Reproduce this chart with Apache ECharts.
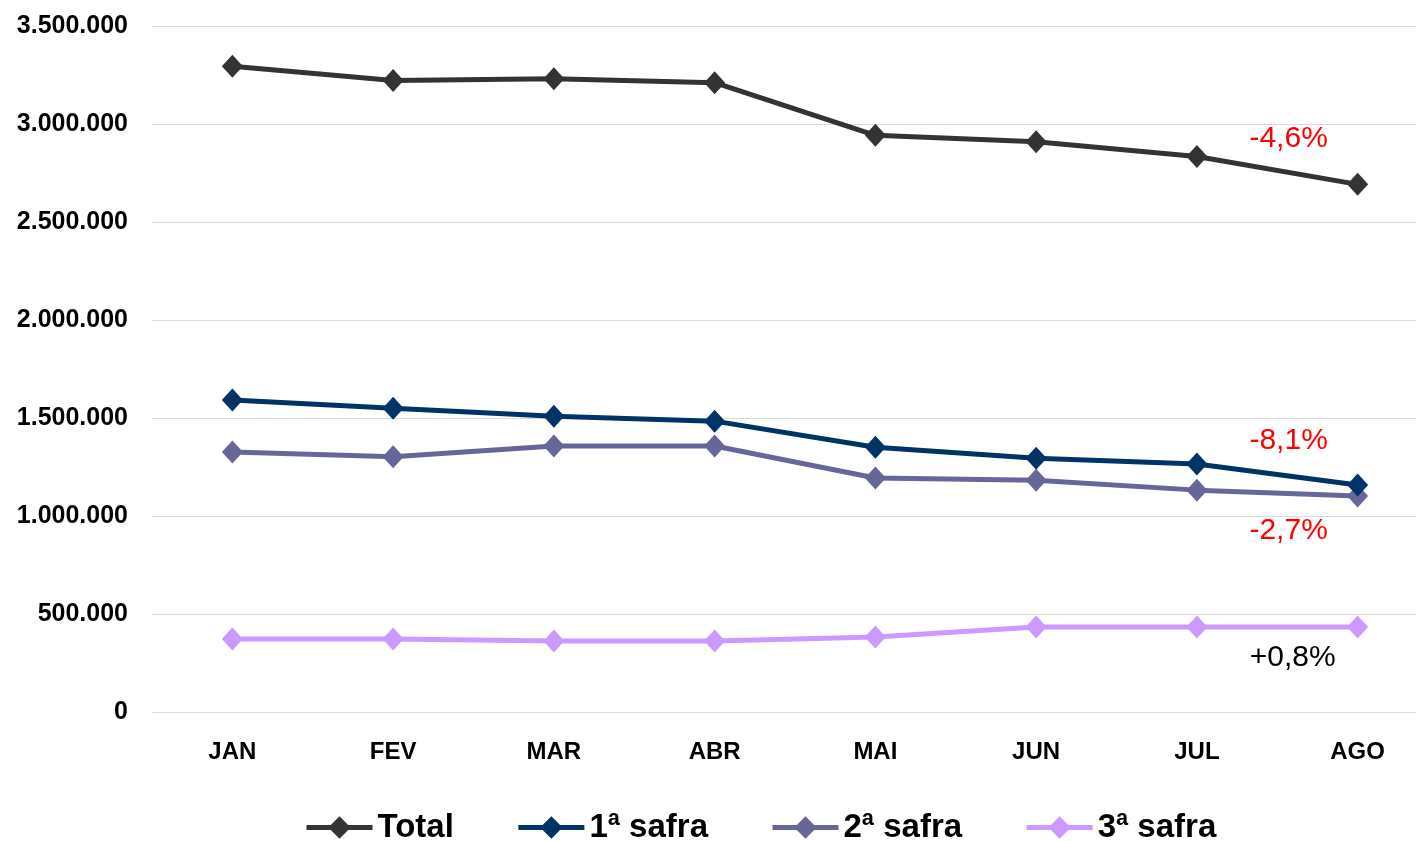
<!DOCTYPE html>
<html>
<head>
<meta charset="utf-8">
<script src="https://cdn.jsdelivr.net/npm/echarts@6/dist/echarts.min.js"></script>
<style>
html,body{margin:0;padding:0;background:#fff;}
#c{width:1416px;height:841px;}
</style>
</head>
<body>
<div id="c"></div>
<script>
const categories = ['JAN','FEV','MAR','ABR','MAI','JUN','JUL','AGO'];
const seriesNames = ['Total','1ª safra','2ª safra','3ª safra'];
const totalValues = [3295000, 3222000, 3231000, 3211000, 2942000, 2910000, 2834000, 2692000];
const safra1Values = [1592000, 1550000, 1509000, 1484000, 1351000, 1295000, 1265000, 1158000];
const safra2Values = [1326000, 1302000, 1357000, 1357000, 1194000, 1183000, 1132000, 1102000];
const safra3Values = [373000, 373000, 362000, 362000, 383000, 434000, 434000, 434000];
const changeLabels = ['-4,6%','-8,1%','-2,7%','+0,8%'];
const yTicks = [0, 500000, 1000000, 1500000, 2000000, 2500000, 3000000, 3500000];

const colors = ['#333333','#003366','#666699','#cc99ff'];
const labelColors = ['#ff0000','#ff0000','#ff0000','#000000'];
const labelOffsets = [[-69,-46],[-69,-44],[-69,35],[-65,31]];
const allValues = [totalValues, safra1Values, safra2Values, safra3Values];

function fmt(v){
  return String(v).replace(/\B(?=(\d{3})+(?!\d))/g,'.');
}

const series = allValues.map((vals,i)=>({
  name: seriesNames[i],
  type: 'line',
  data: vals,
  symbol: 'diamond',
  symbolSize: [21,23],
  color: colors[i],
  lineStyle: {width: 5, color: colors[i]},
  itemStyle: {color: colors[i]},
  z: 10 - i,
  animation: false,
  markPoint: {
    symbol: 'circle',
    symbolSize: 0,
    silent: true,
    animation: false,
    data: [{
      coord: [categories.length-1, vals[vals.length-1]],
      label: {
        show: true,
        position: 'inside',
        offset: labelOffsets[i],
        formatter: changeLabels[i],
        color: labelColors[i],
        fontSize: 30,
        fontFamily: 'Liberation Sans, Arial, sans-serif'
      }
    }]
  }
}));

const chart = echarts.init(document.getElementById('c'));
chart.setOption({
  backgroundColor: '#ffffff',
  animation: false,
  grid: {left: 152, top: 26, width: 1286, height: 686, containLabel: false, outerBoundsMode: 'none'},
  legend: {
    data: seriesNames,
    left: 299,
    top: 806,
    itemWidth: 66,
    itemHeight: 28,
    itemGap: 62,
    lineStyle: {width: 5},
    textStyle: {
      fontSize: 33,
      fontWeight: 'bold',
      color: '#000',
      fontFamily: 'Liberation Sans, Arial, sans-serif'
    }
  },
  xAxis: {
    type: 'category',
    data: categories,
    boundaryGap: true,
    axisLine: {show: true, lineStyle: {color: '#d9d9d9', width: 1}},
    axisTick: {show: false},
    axisLabel: {
      margin: 28,
      fontSize: 24,
      fontWeight: 'bold',
      color: '#000',
      fontFamily: 'Liberation Sans, Arial, sans-serif'
    }
  },
  yAxis: {
    type: 'value',
    min: yTicks[0],
    max: yTicks[yTicks.length-1],
    interval: yTicks[1]-yTicks[0],
    axisLine: {show: false},
    axisTick: {show: false},
    splitLine: {lineStyle: {color: '#d9d9d9', width: 1}},
    axisLabel: {
      margin: 24,
      fontSize: 25,
      fontWeight: 'bold',
      color: '#000',
      fontFamily: 'Liberation Sans, Arial, sans-serif',
      formatter: fmt
    }
  },
  series: series
});
</script>
</body>
</html>
